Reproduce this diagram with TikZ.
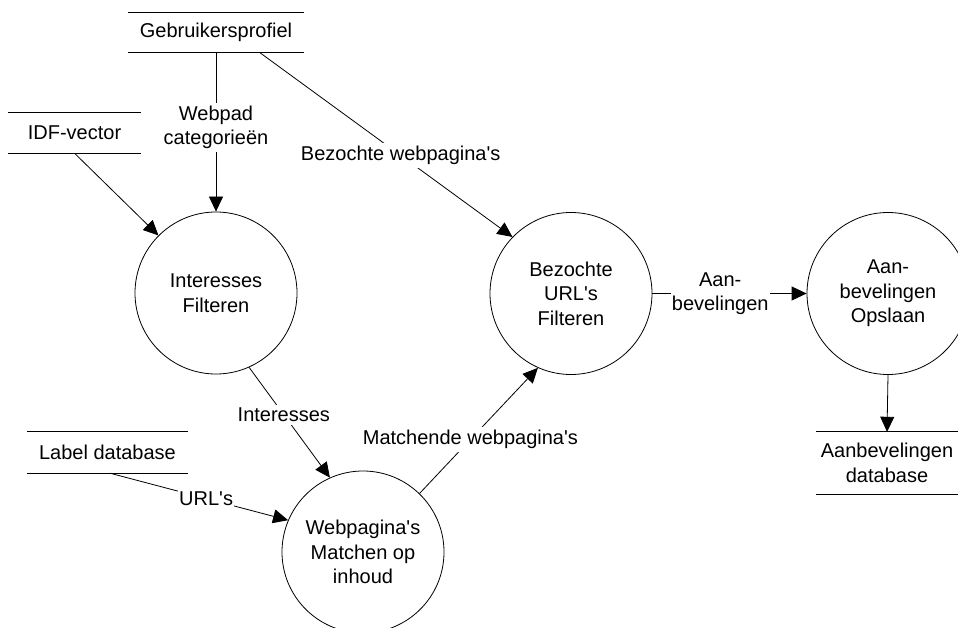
\documentclass[tikz,border=0pt]{standalone}
\usepackage{fontspec}
\setmainfont{Liberation Sans}[Ligatures=TeXOff]
\usetikzlibrary{arrows.meta}
\begin{document}
\begin{tikzpicture}[x=1pt,y=-1pt,
  every node/.style={font=\fontsize{20}{24.5}\selectfont, align=center},
  process/.style={circle, draw, line width=0.8pt, minimum size=162pt, inner sep=0pt},
  store/.style={inner sep=0pt, minimum height=#1},
  storeline/.style={line width=0.8pt},
  flow/.style={line width=0.8pt, -{Triangle[length=15pt,width=14pt]}},
  lbl/.style={fill=white, inner xsep=1pt, inner ysep=3pt},
]
\useasboundingbox (0,0) rectangle (958,628);
\clip (0,0) rectangle (958,628);

% data stores
\node[store=40pt, minimum width=176pt] (gp) at (216,32.7) {Gebruikersprofiel};
\node[store=40pt, minimum width=133pt] (idf) at (74.5,133) {IDF-vector};
\node[store=41pt, minimum width=161pt] (ld) at (107.5,452.5) {Label database};
\node[store=62pt, minimum width=142pt] (ad) at (887,463) {Aanbevelingen\\database};
\foreach \s in {gp,idf,ld,ad}
  \draw[storeline] (\s.north west) -- (\s.north east) (\s.south west) -- (\s.south east);

% processes
\node[process] (if) at (216,293) {Interesses\\Filteren};
\node[process] (bf) at (571,293.5) {Bezochte\\URL's\\Filteren};
\node[process] (ao) at (888,293.5) {Aan-\\bevelingen\\Opslaan};
\node[process] (wm) at (363,552) {Webpagina's\\Matchen op\\inhoud};

% data flows
\draw[flow] (gp.south) -- node[lbl, pos=0.47] {Webpad\\categorieën} (if.north);
\draw[flow] ([xshift=-44pt]gp.south east) -- node[lbl, pos=0.557] {Bezochte webpagina's} (bf.136);
\draw[flow] (idf.south) -- (if.135);
\draw[flow] (if.294) -- node[lbl, pos=0.43] {Interesses} (wm.114);
\draw[flow] ([xshift=2.5pt]ld.south) -- node[lbl, pos=0.54] {URL's} (wm.157);
\draw[flow] (wm.46) -- node[lbl, pos=0.43] {Matchende webpagina's} (bf.246);
\draw[flow] (bf.east) -- node[lbl, pos=0.44] {Aan-\\bevelingen} (ao.west);
\draw[flow] (ao.south) -- (ad.north);
\end{tikzpicture}
\end{document}
